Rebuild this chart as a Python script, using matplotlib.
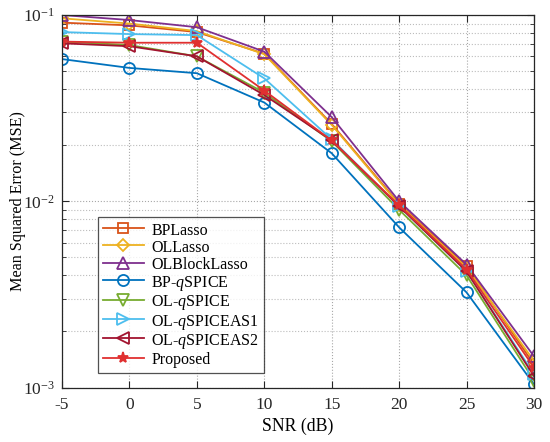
import matplotlib
matplotlib.use("Agg")
import matplotlib.pyplot as plt
from matplotlib.ticker import LogLocator, NullFormatter

plt.rcParams['font.family'] = ['Liberation Serif', 'DejaVu Serif']
plt.rcParams['mathtext.fontset'] = 'custom'
plt.rcParams['mathtext.rm'] = 'Liberation Serif'
plt.rcParams['mathtext.it'] = 'Liberation Serif:italic'
plt.rcParams['axes.unicode_minus'] = False

snr = [-5, 0, 5, 10, 15, 20, 25, 30]
bp_lasso = [0.091, 0.088, 0.081, 0.062, 0.026, 0.0097, 0.0045, 0.00133]
ol_lasso = [0.096, 0.090, 0.082, 0.0616, 0.0257, 0.0096, 0.0044, 0.00139]
ol_block_lasso = [0.100, 0.094, 0.086, 0.0636, 0.0283, 0.0100, 0.00457, 0.00147]
bp_qspice = [0.058, 0.052, 0.0487, 0.0339, 0.0181, 0.00724, 0.00324, 0.00104]
ol_qspice = [0.072, 0.069, 0.060, 0.0383, 0.0210, 0.0090, 0.0040, 0.00109]
ol_qspice_as1 = [0.081, 0.079, 0.078, 0.0457, 0.0215, 0.0094, 0.0042, 0.00118]
ol_qspice_as2 = [0.0705, 0.068, 0.060, 0.0372, 0.0212, 0.0094, 0.0042, 0.00115]
proposed = [0.072, 0.071, 0.071, 0.0393, 0.0212, 0.0095, 0.0043, 0.00128]

labels = ['BPLasso', 'OLLasso', 'OLBlockLasso', 'BP-$q$SPICE', 'OL-$q$SPICE',
          'OL-$q$SPICEAS1', 'OL-$q$SPICEAS2', 'Proposed']
series = [bp_lasso, ol_lasso, ol_block_lasso, bp_qspice, ol_qspice,
          ol_qspice_as1, ol_qspice_as2, proposed]
colors = ['#D95319', '#EDB120', '#7E2F8E', '#0072BD', '#77AC30',
          '#4DBEEE', '#A2142F', '#E03030']
markers = ['s', 'D', '^', 'o', 'v', '>', '<', '*']
msizes = [7, 6.5, 9, 8, 9, 9, 9, 8]

fig = plt.figure(figsize=(5.5, 4.42), dpi=100)
ax = fig.add_axes([0.1127, 0.1233, 0.8582, 0.8427])

for y, lab, c, m, ms in zip(series, labels, colors, markers, msizes):
    filled = (m == '*')
    ax.plot(snr, y, color=c, marker=m, markersize=ms,
            markerfacecolor=c if filled else 'none', markeredgecolor=c,
            markeredgewidth=1.3, linewidth=1.3, label=lab)

ax.set_yscale('log')
ax.set_xlim(-5, 30)
ax.set_ylim(1e-3, 1e-1)
ax.set_xticks(snr)
ax.yaxis.set_major_locator(LogLocator(base=10, numticks=5))
ax.yaxis.set_minor_locator(LogLocator(base=10, subs=range(2, 10), numticks=20))
ax.yaxis.set_minor_formatter(NullFormatter())

ax.grid(True, which='major', linestyle=':', color='#a8a8a8', linewidth=0.8)
ax.grid(True, which='minor', axis='y', linestyle=':', color='#bcbcbc', linewidth=0.8)
ax.tick_params(which='both', direction='in', top=True, right=True, colors='#262626',
               labelsize=12.5)
ax.tick_params(axis='x', which='major', length=5, pad=7)
ax.tick_params(axis='y', which='major', length=5, pad=5)
ax.tick_params(which='minor', length=3)
for sp in ax.spines.values():
    sp.set_color('#262626')
    sp.set_linewidth(0.9)

ax.set_xlabel('SNR (dB)', fontsize=12.8, labelpad=3)
ax.set_ylabel('Mean Squared Error (MSE)', fontsize=11.6, labelpad=-2)

leg = ax.legend(loc='lower left', bbox_to_anchor=(0.076, 0.039), fontsize=11.5,
                frameon=True, fancybox=False, edgecolor='#262626',
                handlelength=2.6, handleheight=1.15, handletextpad=0.45,
                borderpad=0.3, labelspacing=0.0, borderaxespad=0)
leg.get_frame().set_linewidth(0.9)

fig.savefig('out.png', dpi=100)
